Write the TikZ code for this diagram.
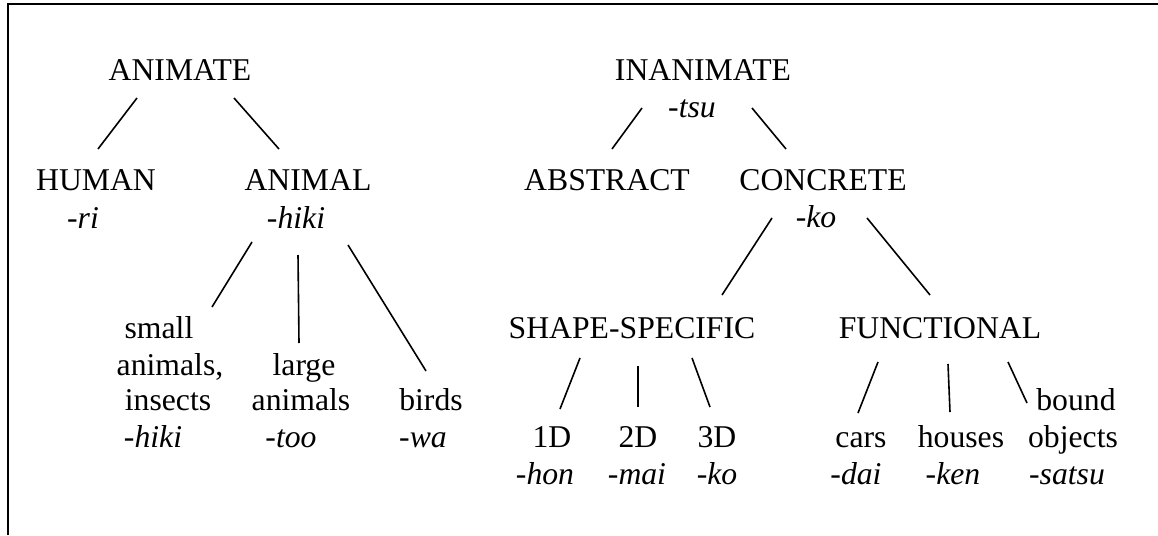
\documentclass[tikz,border=0pt]{standalone}
\usepackage{fontspec}
\setmainfont{Liberation Serif}
\begin{document}
\begin{tikzpicture}[x=1pt,y=-1pt,
  lab/.style={anchor=base, inner sep=0pt, outer sep=0pt, font=\fontsize{31.7}{37}\selectfont},
  suf/.style={lab, font=\fontsize{31.7}{37}\selectfont\itshape},
  edge/.style={line width=1.6pt, line cap=butt},
  frame/.style={line width=2pt}]
\useasboundingbox (0,0) rectangle (1158,535);
\draw[frame] (8,535) -- (8,4) -- (1158,4);

% left tree
\node[lab] (animate) at (180,80) {ANIMATE};
\node[lab] (human) at (96,190) {HUMAN};
\node[suf] (human-s) at (83,228) {-ri};
\node[lab] (animal) at (308,190) {ANIMAL};
\node[suf] (animal-s) at (296,228) {-hiki};
\node[lab] (small1) at (159,338) {small};
\node[lab] (small2) at (170,375) {animals,};
\node[lab] (small3) at (168,410) {insects};
\node[suf] (small-s) at (153,447) {-hiki};
\node[lab] (large1) at (304,375) {large};
\node[lab] (large2) at (301,410) {animals};
\node[suf] (large-s) at (291,447) {-too};
\node[lab] (birds) at (431,410) {birds};
\node[suf] (birds-s) at (423,447) {-wa};

% right tree
\node[lab] (inanimate) at (703,80) {INANIMATE};
\node[suf] (inanimate-s) at (692,117) {-tsu};
\node[lab] (abstract) at (607,190) {ABSTRACT};
\node[lab] (concrete) at (823,190) {CONCRETE};
\node[suf] (concrete-s) at (816,227) {-ko};
\node[lab] (shape) at (632,338) {SHAPE-SPECIFIC};
\node[lab] (functional) at (940,338) {FUNCTIONAL};
\node[lab] (d1) at (552,447) {1D};
\node[suf] (d1-s) at (545,484) {-hon};
\node[lab] (d2) at (638,447) {2D};
\node[suf] (d2-s) at (637,484) {-mai};
\node[lab] (d3) at (717,447) {3D};
\node[suf] (d3-s) at (717,484) {-ko};
\node[lab] (cars) at (861,447) {cars};
\node[suf] (cars-s) at (856,484) {-dai};
\node[lab] (houses) at (961,447) {houses};
\node[suf] (houses-s) at (953,484) {-ken};
\node[lab] (bound1) at (1076,410) {bound};
\node[lab] (bound2) at (1073,447) {objects};
\node[suf] (bound-s) at (1067,484) {-satsu};

% connector end points
\coordinate (animate-l) at (137,98);   \coordinate (human-t) at (98,149);
\coordinate (animate-r) at (234,98);   \coordinate (animal-t) at (279,149);
\coordinate (animal-l) at (252,242);   \coordinate (small-t) at (212,307);
\coordinate (animal-m) at (298,255);   \coordinate (large-t) at (299,343);
\coordinate (animal-r) at (348,245);   \coordinate (birds-t) at (426,371);
\coordinate (inanimate-l) at (642,108); \coordinate (abstract-t) at (612,149);
\coordinate (inanimate-r) at (752,108); \coordinate (concrete-t) at (786,149);
\coordinate (concrete-l) at (772,218); \coordinate (shape-t) at (722,295);
\coordinate (concrete-r) at (867,218); \coordinate (functional-t) at (930,295);
\coordinate (shape-l) at (580,358);    \coordinate (d1-t) at (560,409);
\coordinate (shape-m) at (638,366);    \coordinate (d2-t) at (638,407);
\coordinate (shape-r) at (692,358);    \coordinate (d3-t) at (710,407);
\coordinate (functional-l) at (878,362); \coordinate (cars-t) at (858,413);
\coordinate (functional-m) at (948,364); \coordinate (houses-t) at (950,412);
\coordinate (functional-r) at (1008,362); \coordinate (bound-t) at (1027,403);

\draw[edge] (animate-l) -- (human-t);
\draw[edge] (animate-r) -- (animal-t);
\draw[edge] (animal-l) -- (small-t);
\draw[edge] (animal-m) -- (large-t);
\draw[edge] (animal-r) -- (birds-t);
\draw[edge] (inanimate-l) -- (abstract-t);
\draw[edge] (inanimate-r) -- (concrete-t);
\draw[edge] (concrete-l) -- (shape-t);
\draw[edge] (concrete-r) -- (functional-t);
\draw[edge] (shape-l) -- (d1-t);
\draw[edge] (shape-m) -- (d2-t);
\draw[edge] (shape-r) -- (d3-t);
\draw[edge] (functional-l) -- (cars-t);
\draw[edge] (functional-m) -- (houses-t);
\draw[edge] (functional-r) -- (bound-t);
\end{tikzpicture}
\end{document}
